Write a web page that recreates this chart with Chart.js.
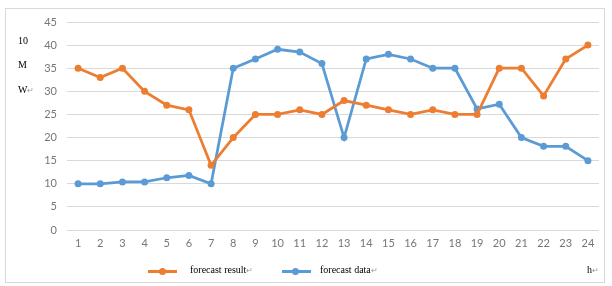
<!DOCTYPE html>
<html>
<head>
<meta charset="utf-8">
<script src="https://cdn.jsdelivr.net/npm/chart.js@4.4.0/dist/chart.umd.min.js"></script>
<style>
  html, body { margin: 0; padding: 0; background: #fff; }
  #wrap { position: relative; width: 612px; height: 286px; overflow: hidden; }
  #frame { position: absolute; left: 5px; top: 8px; width: 600px; height: 275px; border: 1px solid #d9d9d9; box-sizing: border-box; }
  canvas { position: absolute; left: 0; top: 0; }
  .txt { position: absolute; font-family: "Liberation Serif", serif; font-size: 10px; color: #000; line-height: 1; white-space: nowrap; }
  .ret { color: #999; font-size: 8px; }
  .key { position: absolute; height: 3px; width: 29px; top: 270px; }
  .dot { position: absolute; width: 7px; height: 7px; border-radius: 50%; top: 268px; }
</style>
</head>
<body>
<div id="wrap">
  <div id="frame"></div>
  <canvas id="myChart" width="612" height="286"></canvas>
  <div class="txt" style="left:18px;top:36px">10</div>
  <div class="txt" style="left:18px;top:60px">M</div>
  <div class="txt" style="left:18px;top:85px">W<span class="ret">↵</span></div>

  <div class="key" style="left:148px;background:#ed7d31"></div>
  <div class="dot" style="left:159px;background:#ed7d31"></div>
  <div class="txt" style="left:190px;top:265px">forecast result<span class="ret">↵</span></div>
  <div class="key" style="left:282px;background:#5b9bd5"></div>
  <div class="dot" style="left:292px;background:#5b9bd5"></div>
  <div class="txt" style="left:320px;top:265px">forecast data<span class="ret">↵</span></div>
  <div class="txt" style="left:587px;top:265px">h<span class="ret">↵</span></div>
</div>
<script>
let hours = ["1","2","3","4","5","6","7","8","9","10","11","12","13","14","15","16","17","18","19","20","21","22","23","24"];
let forecastResult = [35, 33, 35, 30, 27, 26, 14, 20, 25, 25, 26, 25, 28, 27, 26, 25, 26, 25, 25, 35, 35, 29, 37, 40];
let forecastData = [10, 10, 10.4, 10.4, 11.3, 11.8, 10, 35, 37, 39.1, 38.5, 36, 20, 37, 38, 37, 35, 35, 26.2, 27.2, 20, 18.1, 18.1, 15];
let yMin = 0, yMax = 45, yStep = 5;

let ctx = document.getElementById('myChart').getContext('2d');

const myChart = new Chart(ctx, {
  type: 'line',
  data: {
    labels: hours,
    datasets: [{
      label: 'forecast result',
      data: forecastResult,
      borderColor: "#ed7d31",
      backgroundColor: "#ed7d31",
      borderWidth: 2.75,
      pointRadius: 3.5,
      pointBorderWidth: 0,
      tension: 0
    }, {
      label: 'forecast data',
      data: forecastData,
      borderColor: "#5b9bd5",
      backgroundColor: "#5b9bd5",
      borderWidth: 2.75,
      pointRadius: 3.5,
      pointBorderWidth: 0,
      tension: 0
    }]
  },
  options: {
    responsive: false,
    animation: false,
    layout: { padding: { left: 0, top: 22, right: 13, bottom: 0 } },
    scales: {
      x: {
        offset: true,
        grid: { display: false, drawTicks: false },
        border: { display: false },
        ticks: { color: "#767676", padding: 7, maxRotation: 0, autoSkip: false,
          font: { family: "Lato", size: 11 } },
        afterFit: s => { s.height = 56; }
      },
      y: {
        min: yMin,
        max: yMax,
        grid: { color: "#d9d9d9", lineWidth: 1, drawTicks: false },
        border: { display: false },
        ticks: { stepSize: yStep, color: "#767676", padding: 10,
          font: { family: "Lato", size: 11 } },
        afterFit: s => { s.width = 67; }
      }
    },
    plugins: {
      legend: { display: false },
      tooltip: { enabled: false }
    }
  }
});
</script>
</body>
</html>
